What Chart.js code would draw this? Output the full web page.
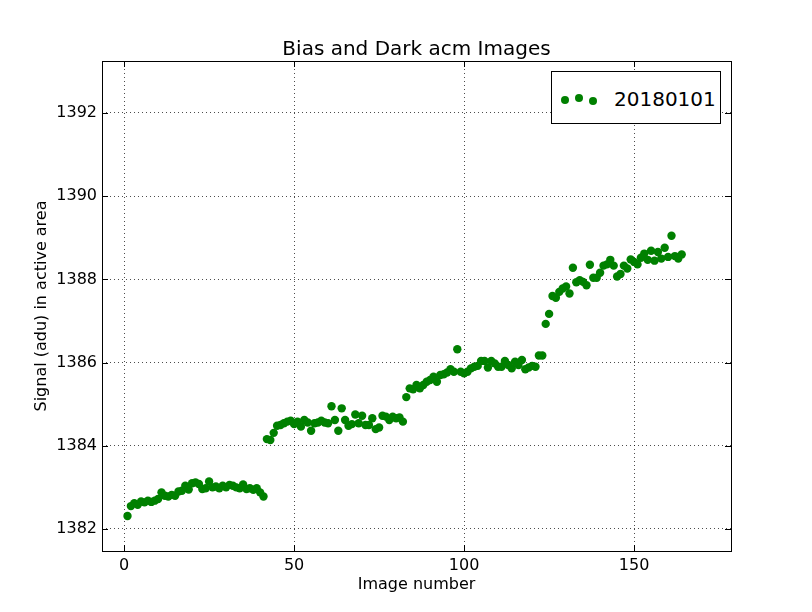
<!DOCTYPE html>
<html>
<head>
<meta charset="utf-8">
<title>Bias and Dark acm Images</title>
<script src="https://cdn.jsdelivr.net/npm/chart.js@4.4.1/dist/chart.umd.min.js"></script>
<style>
    html, body { margin: 0; padding: 0; background: #fff; }
    #wrap { position: relative; width: 812px; height: 612px; font-family: "DejaVu Sans", sans-serif; color: #000; }
    #title { position: absolute; left: 102px; width: 629px; top: 36px; text-align: center; font-size: 20px; line-height: 24px; }
    #legend {
        position: absolute; left: 551px; top: 71px; width: 168px; height: 51px;
        border: 1px solid #000; background: #fff; font-size: 20px;
    }
    #legend .dot { position: absolute; width: 8px; height: 8px; border-radius: 50%; background: #008000; }
    #legend .lbl { position: absolute; left: 62px; top: 17px; line-height: 20px; }
</style>
</head>
<body>
<div id="wrap">
    <canvas id="chart" width="812" height="612"></canvas>
    <div id="title">Bias and Dark acm Images</div>
    <div id="legend">
        <span class="dot" style="left:9px;top:24px"></span>
        <span class="dot" style="left:23px;top:22px"></span>
        <span class="dot" style="left:37px;top:25px"></span>
        <span class="lbl">20180101</span>
    </div>
</div>
<script>
// image numbers 1..164 and the mean signal
const imageNumbers = [];
for (let i = 1; i <= 164; i++) imageNumbers.push(i);

const signal = [
    // 1 - 41
    1382.31, 1382.55, 1382.62, 1382.58, 1382.66, 1382.64, 1382.68, 1382.65, 1382.68, 1382.72,
    1382.88, 1382.80, 1382.78, 1382.82, 1382.80, 1382.90, 1382.92, 1383.04, 1382.95, 1383.10,
    1383.12, 1383.08, 1382.96, 1382.98, 1383.14, 1383.00, 1383.02, 1382.98, 1383.04, 1383.00,
    1383.06, 1383.04, 1383.00, 1382.98, 1383.07, 1382.96, 1382.98, 1382.94, 1382.98, 1382.88,
    1382.78,
    // 42 - 82
    1384.16, 1384.14, 1384.31, 1384.48, 1384.50, 1384.54, 1384.58, 1384.60, 1384.52, 1384.58,
    1384.46, 1384.62, 1384.56, 1384.36, 1384.54, 1384.56, 1384.60, 1384.56, 1384.54, 1384.95,
    1384.62, 1384.36, 1384.90, 1384.62, 1384.48, 1384.52, 1384.75, 1384.54, 1384.72, 1384.50,
    1384.50, 1384.66, 1384.40, 1384.44, 1384.72, 1384.70, 1384.62, 1384.70, 1384.66, 1384.68,
    1384.58,
    // 83 - 123
    1385.17, 1385.38, 1385.36, 1385.46, 1385.38, 1385.46, 1385.54, 1385.58, 1385.66, 1385.54,
    1385.70, 1385.72, 1385.76, 1385.84, 1385.78, 1386.32, 1385.78, 1385.74, 1385.78, 1385.86,
    1385.90, 1385.92, 1386.04, 1386.04, 1385.88, 1386.04, 1385.98, 1385.90, 1385.90, 1386.04,
    1385.94, 1385.86, 1386.02, 1385.94, 1386.06, 1385.84, 1385.88, 1385.92, 1385.90, 1386.17,
    1386.17,
    // 124 - 164
    1386.93, 1387.17, 1387.60, 1387.56, 1387.70, 1387.78, 1387.83, 1387.66, 1388.28, 1387.93,
    1387.98, 1387.94, 1387.86, 1388.35, 1388.04, 1388.04, 1388.16, 1388.33, 1388.36, 1388.47,
    1388.33, 1388.07, 1388.13, 1388.33, 1388.26, 1388.48, 1388.42, 1388.36, 1388.52, 1388.62,
    1388.47, 1388.69, 1388.45, 1388.66, 1388.50, 1388.76, 1388.54, 1389.05, 1388.56, 1388.50,
    1388.60
];

const xTicks = [0, 50, 100, 150];
const yTicks = [1382, 1384, 1386, 1388, 1390, 1392];

const FONT = '"DejaVu Sans", sans-serif';

// frame and inward ticks on all four sides, matplotlib style
const framePlugin = {
    id: 'frame',
    afterDraw(chart) {
        const { ctx, chartArea: a, scales } = chart;
        ctx.save();
        ctx.strokeStyle = '#000';
        ctx.lineWidth = 1;
        ctx.beginPath();
        xTicks.forEach(v => {
            const px = Math.round(scales.x.getPixelForValue(v)) + 0.5;
            ctx.moveTo(px, a.bottom); ctx.lineTo(px, a.bottom - 6);
            ctx.moveTo(px, a.top); ctx.lineTo(px, a.top + 6);
        });
        yTicks.forEach(v => {
            const py = Math.round(scales.y.getPixelForValue(v)) + 0.5;
            ctx.moveTo(a.left, py); ctx.lineTo(a.left + 6, py);
            ctx.moveTo(a.right, py); ctx.lineTo(a.right - 6, py);
        });
        ctx.stroke();
        ctx.strokeRect(Math.round(a.left) + 0.5, Math.round(a.top) + 0.5,
            Math.round(a.right - a.left), Math.round(a.bottom - a.top));
        ctx.restore();
    }
};

new Chart(document.getElementById('chart'), {
    type: 'scatter',
    data: {
        datasets: [{
            label: '20180101',
            data: imageNumbers.map((n, i) => ({ x: n, y: signal[i] })),
            backgroundColor: '#008000',
            borderWidth: 0,
            pointRadius: 4.2,
            pointHoverRadius: 4.2
        }]
    },
    options: {
        responsive: false,
        animation: false,
        layout: { padding: { left: 0, right: 81, top: 61, bottom: 0 } },
        plugins: {
            legend: { display: false },
            tooltip: { enabled: false },
            title: { display: false }
        },
        scales: {
            x: {
                type: 'linear',
                min: -6.5,
                max: 178.5,
                afterBuildTicks: s => { s.ticks = xTicks.map(v => ({ value: v })); },
                afterFit: s => { s.height = 61; },
                grid: { color: '#000', lineWidth: 0.7, drawTicks: false },
                border: { display: false, dash: [1, 3] },
                ticks: { color: '#000', padding: 5, font: { family: FONT, size: 16 }, callback: v => String(v) },
                title: {
                    display: true, text: 'Image number', color: '#000',
                    font: { family: FONT, size: 16 }, padding: { top: 0, bottom: 18 }
                }
            },
            y: {
                type: 'linear',
                min: 1381.47,
                max: 1393.25,
                afterBuildTicks: s => { s.ticks = yTicks.map(v => ({ value: v })); },
                afterFit: s => { s.width = 102; },
                grid: { color: '#000', lineWidth: 0.7, drawTicks: false },
                border: { display: false, dash: [1, 3] },
                ticks: { color: '#000', padding: 5, font: { family: FONT, size: 16 }, callback: v => String(v) },
                title: {
                    display: true, text: 'Signal (adu) in active area', color: '#000',
                    font: { family: FONT, size: 16 }, padding: { top: 32, bottom: 0 }
                }
            }
        }
    },
    plugins: [framePlugin]
});
</script>
</body>
</html>
